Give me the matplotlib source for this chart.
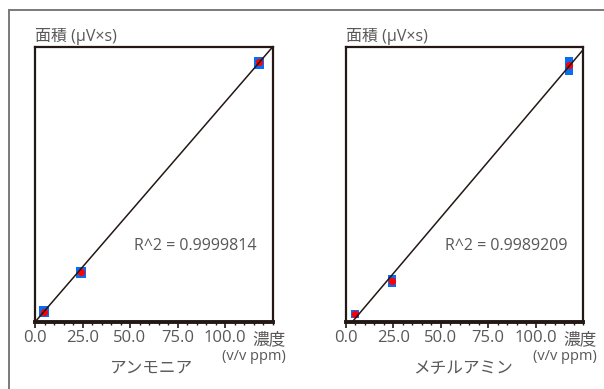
import numpy as np
import matplotlib
matplotlib.use("Agg")
import matplotlib.pyplot as plt
from matplotlib.lines import Line2D
from matplotlib.ticker import MultipleLocator, FuncFormatter

plt.rcParams['font.family'] = ['Open Sans', 'Noto Sans CJK JP', 'DejaVu Sans']

# Data (area in arbitrary units)
names = ["アンモニア", "メチルアミン"]
x_ammonia = [4.7, 24.0, 117.8]
y_ammonia = [103, 497, 2597]
ylo_ammonia = [47, 437, 2530]
yhi_ammonia = [160, 553, 2647]
x_methyl = [4.9, 24.2, 117.7]
y_methyl = [80, 410, 2570]
ylo_methyl = [40, 353, 2470]
yhi_methyl = [120, 470, 2647]
r2_values = ["0.9999814", "0.9989209"]
xticks = [0, 25, 50, 75, 100]

series = [
    (x_ammonia, y_ammonia, ylo_ammonia, yhi_ammonia),
    (x_methyl, y_methyl, ylo_methyl, yhi_methyl),
]

DARK = '#231815'
TEXT = '#595757'

fig = plt.figure(figsize=(6.04, 3.89), dpi=100)
W, H = 604, 389

# outer frame (top and left)
fig.add_artist(Line2D([9/W, 1], [1 - 10/H, 1 - 10/H], transform=fig.transFigure, color='#7d7879', lw=1.4))
fig.add_artist(Line2D([9/W, 9/W], [0, 1 - 10/H], transform=fig.transFigure, color='#7d7879', lw=1.4))

lefts = [35, 345.7]
box_w = [10, 8]
for i, (xs, ys, ylo, yhi) in enumerate(series):
    L = lefts[i]
    ax = fig.add_axes([L / W, (389 - 322) / H, 237.5 / W, 275 / H])
    xmax = 125.0
    ax.set_xlim(0, xmax)
    ax.set_ylim(0, 2750)
    ppu = 237.5 / xmax  # px per unit
    bw = box_w[i] / ppu
    xs_a = np.array(xs); ys_a = np.array(ys)
    ax.bar(xs_a, np.array(yhi) - np.array(ylo), bottom=ylo, width=bw,
           color='#0a6cf0', zorder=2, clip_on=False)
    ax.plot(xs_a, ys_a, 'o', color='#ff0000', ms=5.2, mec='none', zorder=3, clip_on=False)
    k, b = np.polyfit(xs_a, ys_a, 1) if i == 1 else (np.sum(xs_a * ys_a) / np.sum(xs_a ** 2), 0.0)
    xl = np.array([0, xmax])
    ax.plot(xl, k * xl + b, color=DARK, lw=1.1, zorder=4)

    for s in ['top', 'right', 'left']:
        ax.spines[s].set_linewidth(1.6)
        ax.spines[s].set_color(DARK)
    ax.spines['bottom'].set_linewidth(2.8)
    ax.spines['bottom'].set_color(DARK)
    ax.set_yticks([])
    ax.set_xticks(xticks)
    ax.xaxis.set_minor_locator(MultipleLocator(5))
    ax.xaxis.set_major_formatter(FuncFormatter(lambda v, p: f"{v:.1f}"))
    ax.tick_params(axis='x', which='major', length=4, width=1.2, color=DARK,
                   labelsize=12, labelcolor=TEXT, pad=1.5)
    ax.tick_params(axis='x', which='minor', length=2.5, width=1.0, color=DARK)

    ax.text(0, 1.008, "面積 (μV×s)", transform=ax.transAxes, ha='left', va='bottom',
            fontsize=11.5, color=TEXT)
    ax.text(0.415 if i == 0 else 0.42, 0.275, f"R^2 = {r2_values[i]}", transform=ax.transAxes,
            ha='left', va='center', fontsize=11.5, color=TEXT)
    rx = (286 - L) / 237.5 if i == 0 else (597 - L) / 237.5
    ax.text(rx, -0.068, "濃度", transform=ax.transAxes, ha='right', va='center',
            fontsize=12, color=TEXT)
    ax.text(rx, -0.127, "(v/v ppm)", transform=ax.transAxes, ha='right', va='center',
            fontsize=10.5, color=TEXT)
    cx = (151 - L) / 237.5 if i == 0 else (463 - L) / 237.5
    ax.text(cx, -0.17, names[i], transform=ax.transAxes, ha='center', va='center',
            fontsize=12, color=TEXT)

fig.savefig("out.png", dpi=100)
